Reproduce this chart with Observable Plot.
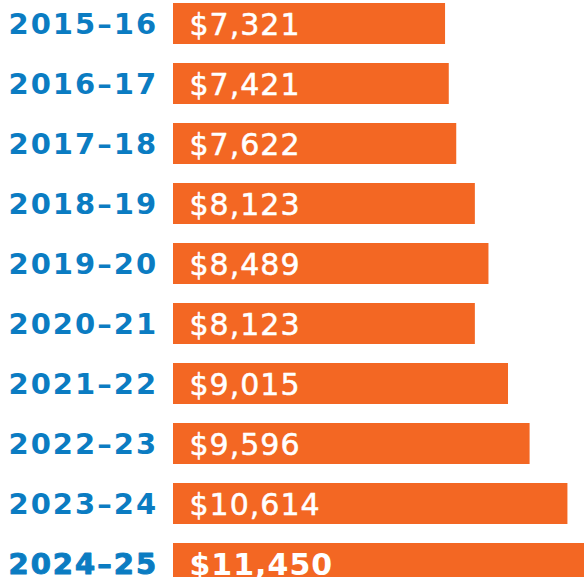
<!DOCTYPE html>
<html>
<head>
<meta charset="utf-8">
<script src="https://cdn.jsdelivr.net/npm/d3@7"></script>
<script src="https://cdn.jsdelivr.net/npm/@observablehq/plot@0.6"></script>
<style>
  html, body { margin: 0; padding: 0; background: #fff; overflow: hidden; }
  #chart svg { overflow: hidden; display: block; }
</style>
</head>
<body>
<div id="chart"></div>
<script>
const years = ["2015–16", "2016–17", "2017–18", "2018–19", "2019–20", "2020–21", "2021–22", "2022–23", "2023–24", "2024–25"];
const values = [7321, 7421, 7622, 8123, 8489, 8123, 9015, 9596, 10614, 11450];

const orange = "#f36723";
const blue = "#0b7cc2";

const data = years.map((y, i) => ({
  year: y,
  value: values[i],
  label: "$" + d3.format(",")(values[i]),
  last: i === years.length - 1
}));
const normal = data.filter(d => !d.last);
const last = data.filter(d => d.last);

const font = "DejaVu Sans";

const chart = Plot.plot({
  width: 584,
  height: 577,
  margin: 0,
  style: { background: "#fff", overflow: "hidden" },
  x: { domain: [0, 11060], range: [173, 584], axis: null },
  y: { domain: years, range: [3, 584], paddingInner: 19 / 60, paddingOuter: 0, align: 0, axis: null },
  marks: [
    Plot.barX(data, { x: "value", y: "year", fill: orange }),
    Plot.text(normal, {
      y: "year", text: "year", frameAnchor: "left", textAnchor: "start", dx: 8, dy: 1,
      fill: blue, fontSize: 29, fontWeight: "bold", fontFamily: font
    }),
    Plot.text(last, {
      y: "year", text: "year", frameAnchor: "left", textAnchor: "start", dx: 8, dy: 1,
      fill: blue, stroke: blue, strokeWidth: 1, fontSize: 29, fontWeight: "bold", fontFamily: font
    }),
    Plot.text(normal, {
      x: 0, y: "year", text: "label", textAnchor: "start", dx: 16, dy: 1,
      fill: "#fff", stroke: "#fff", strokeWidth: 0.5, fontSize: 30, fontFamily: font
    }),
    Plot.text(last, {
      x: 0, y: "year", text: "label", textAnchor: "start", dx: 16, dy: 1,
      fill: "#fff", fontSize: 30, fontWeight: "bold", fontFamily: font
    })
  ]
});
const groups = d3.select(chart).selectAll("g[aria-label='text']").nodes();
groups.forEach((g, i) => {
  g.style.letterSpacing = i < 2 ? "2px" : "1px";
});
document.getElementById("chart").appendChild(chart);
</script>
</body>
</html>
